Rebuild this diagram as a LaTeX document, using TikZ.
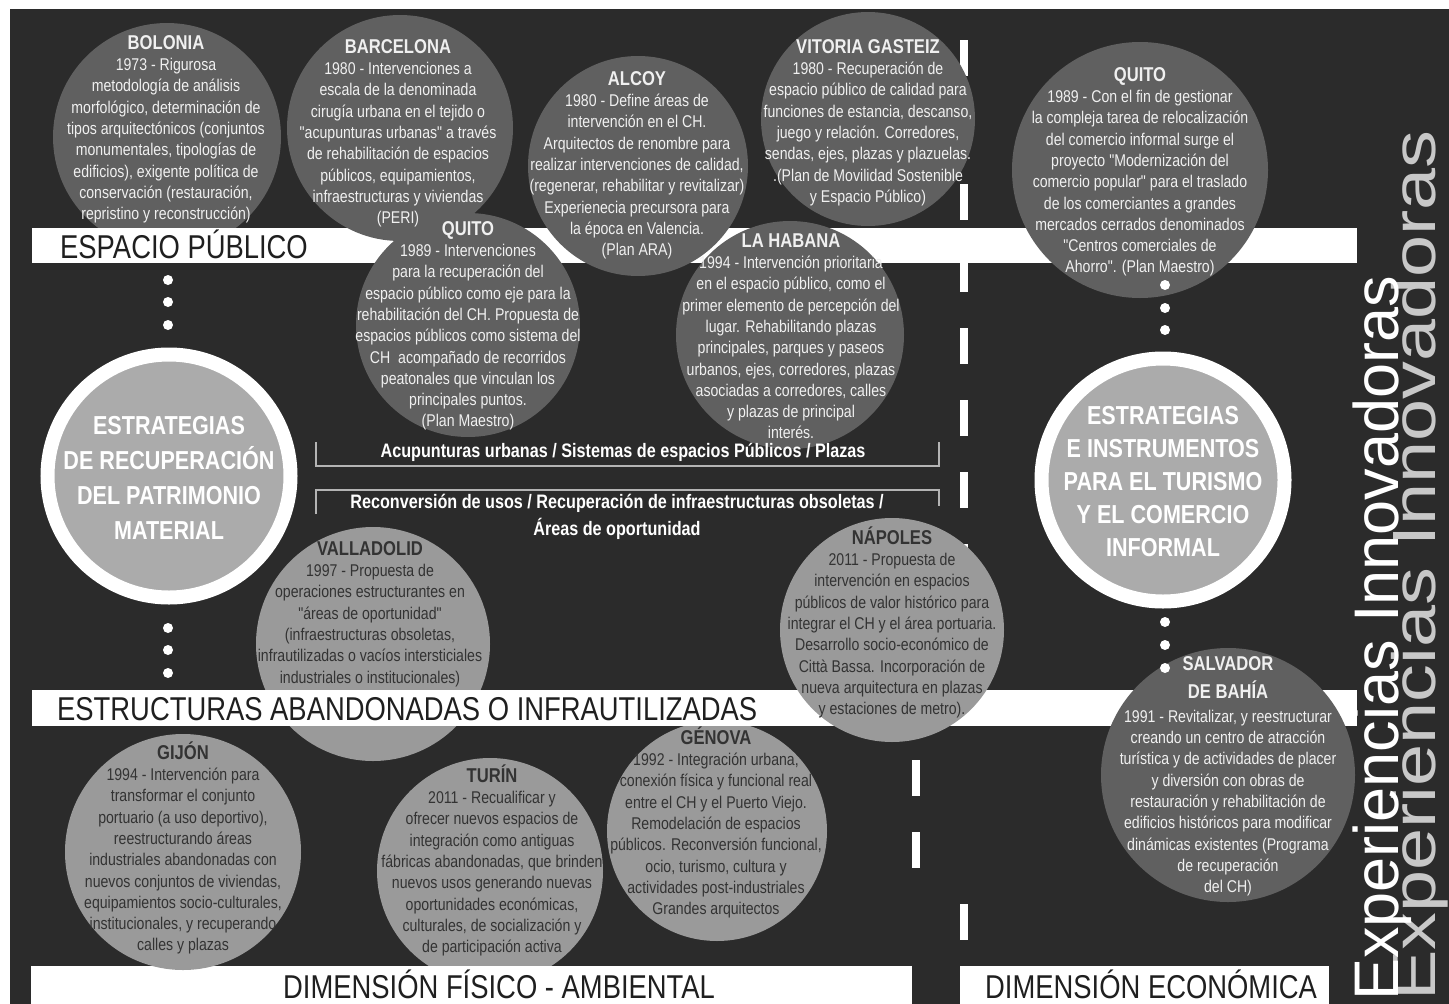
\documentclass[tikz,border=0pt]{standalone}
\usepackage{fontspec}
\setmainfont{Liberation Sans}
\newfontfamily\narrowsans[FakeStretch=0.83]{Liberation Sans}
\usetikzlibrary{positioning}
\definecolor{bgdark}{HTML}{2B2B2B}
\definecolor{circdark}{HTML}{606060}
\definecolor{circlight}{HTML}{9A9A9A}
\definecolor{stratfill}{HTML}{ABABAB}
\definecolor{txtdark}{HTML}{333333}
\definecolor{bracketgray}{HTML}{B4B4B4}
\definecolor{vertgray}{HTML}{C8C8C8}
\newcommand{\ctitle}[1]{\smash{\textbf{\fontsize{20}{21.3}\selectfont #1}}}
\newcommand{\csub}[1]{\textbf{\fontsize{20}{21.3}\selectfont #1}}

\begin{document}
\begin{tikzpicture}
	[
	x=1pt, y=-1pt,
	dkcirc/.style = {circle, fill=circdark, inner sep=0pt, minimum size=#1},
	ltcirc/.style = {circle, fill=circlight, inner sep=0pt, minimum size=#1},
	stratcirc/.style = {circle, fill=stratfill, draw=white, line width=14pt, inner sep=0pt, minimum size=243pt},
	bodytxt/.style = {anchor=north, align=center, inner sep=0pt, font=\narrowsans\fontsize{17}{21.3}\selectfont},
	lighttxt/.style = {bodytxt, text=white!94!black},
	darktxt/.style = {bodytxt, text=txtdark},
	bartxt/.style = {anchor=base west, inner sep=0pt, text depth=0pt, text=black!88, font=\narrowsans\fontsize{33}{38}\selectfont},
	strattxt/.style = {align=center, inner sep=0pt, text=white, font=\narrowsans\bfseries\fontsize{26}{35}\selectfont},
	linktxt/.style = {align=center, inner sep=0pt, text=white, font=\narrowsans\bfseries\fontsize{19.5}{27}\selectfont},
	wdot/.style = {circle, fill=white, inner sep=0pt, minimum size=10pt},
	roaddash/.style = {fill=white}
	]
	\useasboundingbox (0,0) rectangle (1449,1004);
	\fill[bgdark] (10,9) rectangle (1449,1004);

	\foreach \yy in {40,112,...,616} \fill[roaddash] (960,\yy) rectangle (968,\yy+36);
	\foreach \yy in {760,832} \fill[roaddash] (912,\yy) rectangle (920,\yy+36);
	\fill[roaddash] (960,904) rectangle (968,940);

	\node[dkcirc=228pt] (bolonia) at (167,137) {};
	\node[ltcirc=234pt] (valladolid) at (373,644) {};
	\node[ltcirc=220pt] (genova) at (717,831) {};
	\node[ltcirc=226pt] (turin) at (490,871) {};

	\fill[white] (32,228) rectangle (1357,263);
	\fill[white] (32,690) rectangle (1357,726);
	\fill[white] (31,966) rectangle (912,1004);
	\fill[white] (960,966) rectangle (1329,1004);

	\node[dkcirc=226pt] (barcelona) at (400,128) {};
	\node[dkcirc=224pt] (quitoA) at (468,325) {};
	\node[dkcirc=220pt] (alcoy) at (638,166) {};
	\node[dkcirc=214pt] (vitoria) at (868,119) {};
	\node[dkcirc=228pt] (habana) at (790,335) {};
	\node[dkcirc=256pt] (quitoB) at (1140,170) {};
	\node[ltcirc=224pt] (napoles) at (892,630) {};
	\node[dkcirc=254pt] (salvador) at (1228,775) {};
	\node[ltcirc=236pt] (gijon) at (183,852) {};

	\node[stratcirc] (patrimonio) at (169,476) {};
	\node[stratcirc] (turismo) at (1163,480) {};

	\foreach \yy in {280,302,325,628,650,673} \node[wdot] (dotL\yy) at (168,\yy) {};
	\foreach \yy in {285,308,330,622,645,668} \node[wdot] (dotR\yy) at (1165,\yy) {};

	\draw[bracketgray, line width=1.3pt] (316,442) -- (316,466) -- (939,466) -- (939,442);
	\draw[bracketgray, line width=1.3pt] (316,514) -- (316,490) -- (939,490) -- (939,506);

	\node[bartxt] (espacio) at (60,258) {ESPACIO PÚBLICO};
	\node[bartxt] (estructuras) at (57,720) {ESTRUCTURAS ABANDONADAS O INFRAUTILIZADAS};
	\node[bartxt] (fisico) at (283,998) {DIMENSIÓN FÍSICO - AMBIENTAL};
	\node[bartxt] (economica) at (985,998) {DIMENSIÓN ECONÓMICA};

	\node[strattxt] (patrimonio-t) at (169,478) {ESTRATEGIAS\\DE RECUPERACIÓN\\DEL PATRIMONIO\\MATERIAL};
	\node[strattxt, font=\narrowsans\bfseries\fontsize{26}{33}\selectfont] (turismo-t) at (1163,482) {ESTRATEGIAS\\E INSTRUMENTOS\\PARA EL TURISMO\\Y EL COMERCIO\\INFORMAL};

	\node[linktxt] (acupunturas) at (623,452) {Acupunturas urbanas / Sistemas de espacios Públicos / Plazas};
	\node[linktxt] (reconversion) at (617,517) {Reconversión de usos / Recuperación de infraestructuras obsoletas /\\Áreas de oportunidad};

	\node[lighttxt] (bolonia-t) at (166,49) {\ctitle{BOLONIA}\\1973 - Rigurosa\\metodología de análisis\\morfológico, determinación de\\tipos arquitectónicos (conjuntos\\monumentales, tipologías de\\edificios), exigente política de\\conservación (restauración,\\repristino y reconstrucción)};
	\node[lighttxt] (barcelona-t) at (398,53) {\ctitle{BARCELONA}\\1980 - Intervenciones a\\escala de la denominada\\cirugía urbana en el tejido o\\"acupunturas urbanas" a través\\de rehabilitación de espacios\\públicos, equipamientos,\\infraestructuras y viviendas\\(PERI)};
	\node[lighttxt] (quitoA-t) at (468,235) {\ctitle{QUITO}\\1989 - Intervenciones\\para la recuperación del\\espacio público como eje para la\\rehabilitación del CH. Propuesta de\\espacios públicos como sistema del\\CH\ \ acompañado de recorridos\\peatonales que vinculan los\\principales puntos.\\(Plan Maestro)};
	\node[lighttxt] (alcoy-t) at (637,85) {\ctitle{ALCOY}\\1980 - Define áreas de\\intervención en el CH.\\Arquitectos de renombre para\\realizar intervenciones de calidad,\\(regenerar, rehabilitar y revitalizar)\\Experienecia precursora para\\la época en Valencia.\\(Plan ARA)};
	\node[lighttxt] (vitoria-t) at (868,53) {\ctitle{VITORIA GASTEIZ}\\1980 - Recuperación de\\espacio público de calidad para\\funciones de estancia, descanso,\\juego y relación. Corredores,\\sendas, ejes, plazas y plazuelas.\\.(Plan de Movilidad Sostenible\\y Espacio Público)};
	\node[lighttxt] (habana-t) at (791,247) {\ctitle{LA HABANA}\\1994 - Intervención prioritaria\\en el espacio público, como el\\primer elemento de percepción del\\lugar. Rehabilitando plazas\\principales, parques y paseos\\urbanos, ejes, corredores, plazas\\asociadas a corredores, calles\\y plazas de principal\\interés.};
	\node[lighttxt] (quitoB-t) at (1140,81) {\ctitle{QUITO}\\1989 - Con el fin de gestionar\\la compleja tarea de relocalización\\del comercio informal surge el\\proyecto "Modernización del\\comercio popular" para el traslado\\de los comerciantes a grandes\\mercados cerrados denominados\\"Centros comerciales de\\Ahorro". (Plan Maestro)};
	\node[lighttxt] (salvador-t) at (1228,670) {\ctitle{SALVADOR}\\[6.7pt]\csub{DE BAHÍA}\\[2.7pt]1991 - Revitalizar, y reestructurar\\creando un centro de atracción\\turística y de actividades de placer\\y diversión con obras de\\restauración y rehabilitación de\\edificios históricos para modificar\\dinámicas existentes (Programa\\de recuperación\\del CH)};
	\node[darktxt] (valladolid-t) at (370,555) {\ctitle{VALLADOLID}\\1997 - Propuesta de\\operaciones estructurantes en\\"áreas de oportunidad"\\(infraestructuras obsoletas,\\infrautilizadas o vacíos intersticiales\\industriales o institucionales)};
	\node[darktxt] (napoles-t) at (892,544) {\ctitle{NÁPOLES}\\2011 - Propuesta de\\intervención en espacios\\públicos de valor histórico para\\integrar el CH y el área portuaria.\\Desarrollo socio-económico de\\Città Bassa. Incorporación de\\nueva arquitectura en plazas\\y estaciones de metro).};
	\node[darktxt] (gijon-t) at (183,759) {\ctitle{GIJÓN}\\1994 - Intervención para\\transformar el conjunto\\portuario (a uso deportivo),\\reestructurando áreas\\industriales abandonadas con\\nuevos conjuntos de viviendas,\\equipamientos socio-culturales,\\institucionales, y recuperando\\calles y plazas};
	\node[darktxt] (turin-t) at (492,782) {\ctitle{TURÍN}\\2011 - Recualificar y\\ofrecer nuevos espacios de\\integración como antiguas\\fábricas abandonadas, que brinden\\nuevos usos generando nuevas\\oportunidades económicas,\\culturales, de socialización y\\de participación activa};
	\node[darktxt] (genova-t) at (716,744) {\ctitle{GÉNOVA}\\1992 - Integración urbana,\\conexión física y funcional real\\entre el CH y el Puerto Viejo.\\Remodelación de espacios\\públicos. Reconversión funcional,\\ocio, turismo, cultura y\\actividades post-industriales\\Grandes arquitectos};

	\node[rotate=90, xscale=1.24, anchor=base west, inner sep=0pt, text=vertgray, font=\fontsize{61}{70}\selectfont] (experienciasB) at (1435,1001) {Experiencias Innovadoras};
	\node[rotate=90, anchor=base west, inner sep=0pt, text=white, font=\fontsize{63}{70}\selectfont] (experienciasA) at (1398,1001) {Experiencias Innovadoras};
\end{tikzpicture}
\end{document}
